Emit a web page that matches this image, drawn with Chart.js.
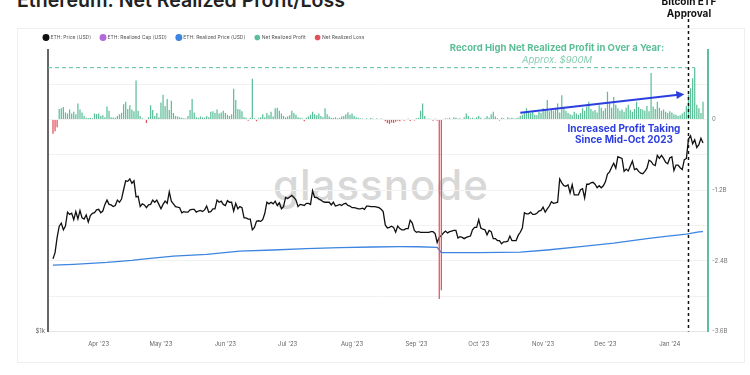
<!DOCTYPE html>
<html>
<head>
<meta charset="utf-8">
<script src="https://cdn.jsdelivr.net/npm/chart.js@4"></script>
<style>
  body { margin: 0; width: 750px; height: 375px; background: #fff; overflow: hidden; position: relative; font-family: Inter, "Noto Sans", sans-serif; }
  #title { position: absolute; left: 17px; top: -10px; font-size: 19.5px; line-height: 21px; font-weight: 600; color: #222; white-space: nowrap; }
  #card { position: absolute; left: 17px; top: 28px; width: 728px; height: 335px; border: 1px solid #efefef; box-sizing: border-box; }
  #wm { position: absolute; left: 231px; top: 160px; width: 300px; text-align: center; font-size: 42px; line-height: 50px; font-weight: 500; letter-spacing: 1px; color: #d8d8d8; }
  #box { position: absolute; left: 0; top: 0; width: 750px; height: 375px; }
  .note { position: absolute; width: 300px; text-align: center; white-space: nowrap; line-height: 12px; }
  .green { color: #5bbd97; font-size: 9.5px; font-weight: 700; }
  .greenI { color: #86cdb2; font-size: 9.5px; font-style: italic; }
  .blue { color: #2d3ee0; font-size: 10px; font-weight: 700; }
  .black { color: #111; font-size: 10px; font-weight: 700; }
</style>
</head>
<body>
<div id="title">Ethereum: Net Realized Profit/Loss</div>
<div id="card"></div>
<div id="wm">glassnode</div>
<div id="box"><canvas id="chart" width="750" height="375"></canvas></div>
<div class="note black" style="left:539px; top:-5px;">Bitcoin ETF</div>
<div class="note black" style="left:539px; top:7px;">Approval</div>
<div class="note green" style="left:407px; top:42px;">Record High Net Realized Profit in Over a Year:</div>
<div class="note greenI" style="left:407px; top:54px;">Approx. $900M</div>
<div class="note blue" style="left:474px; top:122px;">Increased Profit Taking</div>
<div class="note blue" style="left:474px; top:133px;">Since Mid-Oct 2023</div>
<script>
// day index 0 = 10 Mar 2023, last = 17 Jan 2024
var tickDays = [22, 52, 83, 113, 144, 175, 205, 236, 266, 297];
var tickLabels = ["Apr '23", "May '23", "Jun '23", "Jul '23", "Aug '23", "Sep '23", "Oct '23", "Nov '23", "Dec '23", "Jan '24"];
var plTicks = [-3.6e9, -3.0e9, -2.4e9, -1.8e9, -1.2e9, -0.6e9, 0, 0.6e9];
var plLabels = ['-3.6B', '', '-2.4B', '', '-1.2B', '', '0', ''];

// ETH price (USD), daily
var ethPrice = [
  // Mar 10-31
  1430, 1475, 1590, 1680, 1705, 1650, 1680, 1800, 1780, 1790, 1735, 1805, 1740, 1815, 1750, 1740, 1775, 1715, 1770, 1790, 1795, 1820,
  // Apr
  1825, 1795, 1810, 1870, 1910, 1870, 1865, 1850, 1860, 1910, 1890, 1920, 2010, 2100, 2095, 2120, 2075, 2100, 1940, 1945,
  1850, 1875, 1865, 1840, 1865, 1870, 1910, 1890, 1910, 1870,
  // May
  1830, 1870, 1900, 1880, 1990, 1900, 1875, 1850, 1845, 1840, 1795, 1805, 1800, 1800, 1820, 1825, 1825, 1800, 1810, 1815,
  1805, 1820, 1855, 1800, 1805, 1830, 1830, 1910, 1890, 1900, 1870,
  // Jun
  1860, 1905, 1890, 1890, 1810, 1880, 1830, 1850, 1840, 1750, 1750, 1740, 1740, 1650, 1670, 1720, 1725, 1720, 1735, 1790,
  1890, 1875, 1890, 1875, 1900, 1860, 1885, 1830, 1850, 1935,
  // Jul
  1925, 1940, 1955, 1935, 1910, 1850, 1870, 1865, 1860, 1880, 1880, 1870, 2000, 1935, 1935, 1920, 1910, 1895, 1890, 1890,
  1890, 1865, 1890, 1855, 1860, 1870, 1860, 1875, 1880, 1860, 1855,
  // Aug
  1840, 1840, 1835, 1830, 1830, 1835, 1825, 1855, 1855, 1850, 1850, 1850, 1845, 1840, 1825, 1805, 1690, 1665, 1670, 1680,
  1670, 1630, 1680, 1660, 1650, 1650, 1660, 1660, 1730, 1705, 1645,
  // Sep
  1630, 1635, 1630, 1630, 1630, 1630, 1630, 1635, 1635, 1620, 1550, 1590, 1605, 1625, 1640, 1625, 1635, 1640, 1645, 1645,
  1585, 1595, 1590, 1580, 1590, 1595, 1600, 1650, 1670, 1670,
  // Oct
  1735, 1665, 1655, 1650, 1610, 1645, 1635, 1580, 1580, 1565, 1565, 1540, 1555, 1555, 1560, 1600, 1565, 1565, 1565, 1605,
  1630, 1665, 1795, 1785, 1785, 1800, 1780, 1780, 1790, 1810, 1815,
  // Nov
  1845, 1800, 1830, 1855, 1895, 1880, 1885, 1890, 2120, 2080, 2050, 2045, 2060, 1980, 2060, 1960, 1960, 1960, 2010, 2020,
  1930, 2065, 2065, 2080, 2085, 2065, 2030, 2050, 2030, 2050,
  // Dec
  2090, 2170, 2195, 2245, 2290, 2235, 2365, 2355, 2345, 2200, 2225, 2205, 2260, 2315, 2220, 2230, 2200, 2180, 2175, 2200,
  2235, 2325, 2310, 2275, 2265, 2380, 2345, 2380, 2345, 2300, 2285,
  // Jan 1-17
  2350, 2365, 2210, 2270, 2270, 2240, 2220, 2330, 2345, 2580, 2620, 2520, 2570, 2475, 2510, 2590, 2530
];

// ETH realized price (USD), read at these days
var realizedDays = [0, 10, 26, 38, 42, 58, 74, 90, 106, 122, 138, 154, 167, 176, 185, 187, 205, 225, 238, 254, 270, 286, 294, 305, 311, 313];
var realizedPrice = [1386, 1392, 1405, 1420, 1427, 1450, 1462, 1486, 1494, 1504, 1511, 1516, 1519, 1518, 1514, 1475, 1475, 1478, 1494, 1519, 1545, 1580, 1596, 1615, 1633, 1636];

// net realized profit / loss, USD millions, daily
var netRealizedPL = [
  -240, -200, -130, 180, 190, 210, 120, 100, 170, 100,
  130, 90, 270, 170, 120, 60, 30, 25, 30, 20,
  100, 95, 100, 60, 70, 40, 220, 150, 40, 35,
  30, 60, 90, 110, 260, 300, 180, 240, 170, 140,
  660, 150, 60, 20, 10, -60, 40, 240, 160, 60,
  110, 40, 290, 420, 230, 350, 160, 320, 110, 60,
  50, 40, 30, 20, 15, 60, 160, 350, 120, 40,
  30, 50, 40, 30, 60, 40, 130, 140, 110, 170,
  100, 120, 150, 110, 80, 60, 90, 520, 330, 180,
  170, 140, 40, 30, -20, 30, 690, 20, -30, 20,
  40, 90, 40, 110, 70, 130, 50, 190, 200, 150,
  100, 60, 40, 50, 70, 150, 110, 80, 40, 30,
  20, -30, 30, 50, 80, 130, 90, 70, 100, 60,
  40, 190, 90, 50, 30, 25, 40, 20, 30, 50,
  60, 90, 125, 80, 100, 60, 40, 30, 20, 15,
  10, 20, 10, 25, 15, 10, 20, 10, 15, 10,
  -30, -60, -75, -50, -60, -40, -20, -30, 10, -20,
  -10, 15, -25, 10, -15, 20, 30, 150, 270, 60,
  -10, 15, 10, -20, 15, -20, -3050, -2900, 10, 20,
  15, 30, 10, 40, 30, 15, 20, 10, 40, 100,
  60, 20, 30, 15, 40, 60, 30, 10, 20, 60,
  30, 90, 130, 50, 20, -15, 30, 20, 10, 40,
  20, 30, 15, 20, 30, 60, 80, 120, 190, 140,
  110, 150, 80, 70, 130, 110, 190, 150, 330, 140,
  180, 150, 200, 270, 120, 410, 200, 150, 110, 90,
  70, 130, 100, 80, 110, 190, 150, 220, 300, 180,
  140, 160, 120, 240, 200, 150, 190, 470, 280, 200,
  380, 250, 190, 150, 170, 130, 200, 250, 160, 130,
  180, 300, 210, 180, 170, 150, 230, 140, 790, 220,
  180, 300, 200, 150, 170, 130, 110, 140, 120, 90,
  80, 60, 70, 100, 130, 230, 420, 530, 700, 880,
  250, 190, 110, 300
];

var etfDay = 306;                 // 10 Jan 2024
var trendDays = [225, 304];       // blue arrow, start / tip
var trendValues = [115, 430];     // USD millions

var teal = '#5cbf99';
var red = '#e0525b';

var priceData = ethPrice.map(function(v, i) { return {x: i, y: v}; });
var realizedData = realizedDays.map(function(d, k) { return {x: d, y: realizedPrice[k]}; });
var profitData = [], lossData = [];
netRealizedPL.forEach(function(v, i) {
    if (v > 0) profitData.push({x: i, y: v * 1e6});
    if (v < 0) lossData.push({x: i, y: v * 1e6});
});

// record high bar
var recordIdx = 0;
netRealizedPL.forEach(function(v, i) { if (v > netRealizedPL[recordIdx]) recordIdx = i; });

var notes = {
    id: 'notes',
    afterDatasetsDraw: function(chart) {
        var ctx = chart.ctx, xs = chart.scales.x, ys = chart.scales.yPL, area = chart.chartArea;
        ctx.save();
        // record high dashed line
        var ry = ys.getPixelForValue(netRealizedPL[recordIdx] * 1e6);
        ctx.strokeStyle = teal;
        ctx.lineWidth = 1;
        ctx.setLineDash([4, 3]);
        ctx.beginPath();
        ctx.moveTo(area.left, ry);
        ctx.lineTo(xs.getPixelForValue(recordIdx), ry);
        ctx.stroke();
        // ETF approval line
        var ex = xs.getPixelForValue(etfDay);
        ctx.strokeStyle = '#111';
        ctx.lineWidth = 1.5;
        ctx.setLineDash([3, 3]);
        ctx.beginPath();
        ctx.moveTo(ex, 19);
        ctx.lineTo(ex, area.bottom);
        ctx.stroke();
        // trend arrow
        var x1 = xs.getPixelForValue(trendDays[0]), y1 = ys.getPixelForValue(trendValues[0] * 1e6);
        var x2 = xs.getPixelForValue(trendDays[1]), y2 = ys.getPixelForValue(trendValues[1] * 1e6);
        var a = Math.atan2(y2 - y1, x2 - x1);
        ctx.setLineDash([]);
        ctx.strokeStyle = '#2d3ee0';
        ctx.fillStyle = '#2d3ee0';
        ctx.lineWidth = 2;
        ctx.beginPath();
        ctx.moveTo(x1, y1);
        ctx.lineTo(x2 - 6 * Math.cos(a), y2 - 6 * Math.sin(a));
        ctx.stroke();
        ctx.beginPath();
        ctx.moveTo(x2, y2);
        ctx.lineTo(x2 - 8 * Math.cos(a) + 4 * Math.sin(a), y2 - 8 * Math.sin(a) - 4 * Math.cos(a));
        ctx.lineTo(x2 - 8 * Math.cos(a) - 4 * Math.sin(a), y2 - 8 * Math.sin(a) + 4 * Math.cos(a));
        ctx.closePath();
        ctx.fill();
        ctx.restore();
    }
};

var ctx = document.getElementById('chart').getContext('2d');
new Chart(ctx, {
    type: 'bar',
    data: {
        datasets: [{
            type: 'line',
            label: 'ETH: Price (USD)',
            data: priceData,
            yAxisID: 'yPrice',
            borderColor: '#111',
            backgroundColor: '#111',
            borderWidth: 1.3,
            pointRadius: 0,
            order: 2
        }, {
            type: 'line',
            label: 'ETH: Realized Cap (USD)',
            data: [],
            yAxisID: 'yPrice',
            borderColor: '#b36ad9',
            backgroundColor: '#b36ad9',
            borderWidth: 1.3,
            pointRadius: 0,
            order: 2
        }, {
            type: 'line',
            label: 'ETH: Realized Price (USD)',
            data: realizedData,
            yAxisID: 'yPrice',
            borderColor: '#3d85e0',
            backgroundColor: '#3d85e0',
            borderWidth: 1.3,
            pointRadius: 0,
            order: 2
        }, {
            label: 'Net Realized Profit',
            data: profitData,
            yAxisID: 'yPL',
            backgroundColor: teal,
            borderColor: teal,
            grouped: false,
            barPercentage: 0.6,
            categoryPercentage: 1,
            order: 1
        }, {
            label: 'Net Realized Loss',
            data: lossData,
            yAxisID: 'yPL',
            backgroundColor: red,
            borderColor: red,
            grouped: false,
            barPercentage: 0.6,
            categoryPercentage: 1,
            order: 1
        }]
    },
    options: {
        responsive: false,
        animation: false,
        layout: { padding: { left: 34, right: 0, top: 25, bottom: 0 } },
        plugins: {
            legend: {
                position: 'top',
                align: 'start',
                labels: {
                    usePointStyle: true,
                    pointStyle: 'circle',
                    boxWidth: 4,
                    boxHeight: 4,
                    padding: 10,
                    color: '#555',
                    font: { family: 'Inter', size: 5 },
                    sort: function(a, b) { return a.datasetIndex - b.datasetIndex; }
                }
            },
            tooltip: { enabled: false }
        },
        scales: {
            x: {
                type: 'linear',
                min: -2.4,
                max: 315.4,
                offset: false,
                grid: { display: false },
                border: { color: '#e6e6e6', width: 1 },
                afterBuildTicks: function(s) { s.ticks = tickDays.map(function(v) { return {value: v}; }); },
                afterFit: function(s) { s.height = 43.5; },
                ticks: {
                    autoSkip: false,
                    maxRotation: 0,
                    padding: 1,
                    color: '#666',
                    font: { family: 'Inter', size: 6 },
                    callback: function(v) { return tickLabels[tickDays.indexOf(v)]; }
                }
            },
            yPrice: {
                type: 'logarithmic',
                position: 'left',
                min: 1000,
                max: 4000,
                grid: { display: false, drawTicks: false },
                border: { color: '#666', width: 2 },
                afterBuildTicks: function(s) { s.ticks = [{value: 1000}]; },
                afterFit: function(s) { s.width = 14; },
                ticks: {
                    autoSkip: false,
                    padding: 3,
                    color: '#666',
                    font: { family: 'Inter', size: 6 },
                    callback: function(v) { return v === 1000 ? '$1k' : ''; }
                }
            },
            yPL: {
                type: 'linear',
                position: 'right',
                min: -3.6e9,
                max: 1.18e9,
                grid: { color: '#f2f2f2', drawTicks: false },
                border: { color: teal, width: 2 },
                afterBuildTicks: function(s) { s.ticks = plTicks.map(function(v) { return {value: v}; }); },
                afterFit: function(s) { s.width = 42; },
                ticks: {
                    autoSkip: false,
                    padding: 4,
                    color: '#777',
                    font: { family: 'Inter', size: 6 },
                    callback: function(v) { return plLabels[plTicks.indexOf(v)]; }
                }
            }
        }
    },
    plugins: [notes]
});
</script>
</body>
</html>
